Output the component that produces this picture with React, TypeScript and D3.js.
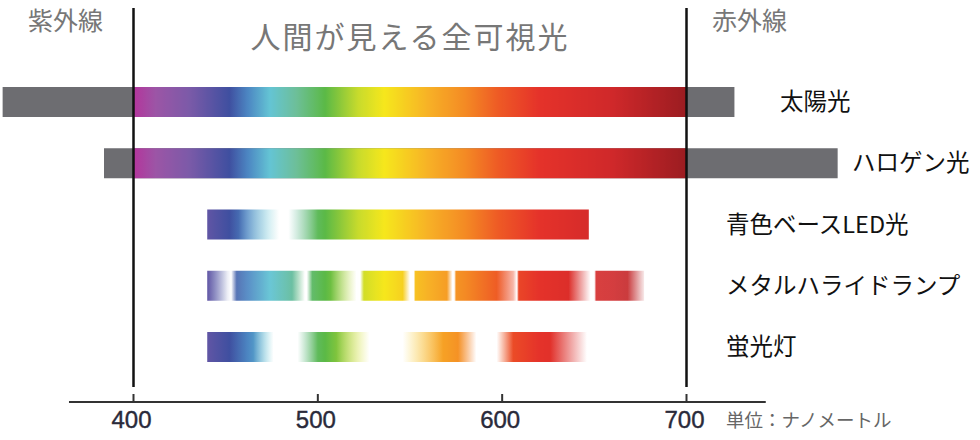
import React from "react";
import * as d3 from "d3";

// Spectrum colour stops (wavelength nm -> colour)
const spectrumNm = [400, 412, 430, 452, 462, 474, 488, 504, 522, 536, 560, 580, 598, 620, 660, 700];
const spectrumColors = ["#b4359c", "#9c55a6", "#7c5aa8", "#3f4fa0", "#4c86c2", "#64c4d4", "#6dbf9a", "#5bb946", "#c8db2c", "#f6e71c", "#f7b126", "#f48a24", "#ee5a25", "#e5322a", "#cf282a", "#9b1c21"];

// Light sources
const lamps = ["太陽光", "ハロゲン光", "青色ベースLED光", "メタルハライドランプ", "蛍光灯"];
// grey (non-visible) extent per lamp, nm (null = none)
const greyStart = [329, 384, null, null, null];
const greyEnd = [726, 782, null, null, null];
// visible emission extent per lamp, nm
const visStart = [400, 400, 440, 440, 440];
const visEnd = [700, 700, 647, 677, 646];
// intensity profiles (nm, opacity)
const profileNm = [
  [400, 700],
  [400, 700],
  [440, 457, 470, 479, 484, 490, 500, 647],
  [440, 445, 451, 453, 456, 486, 493, 494, 497, 507, 516, 521, 523, 525, 546, 550, 552, 553, 570, 573, 574, 575, 597, 606, 608, 609, 636, 648, 650, 651, 668, 677],
  [440, 465, 476, 489, 500, 510, 528, 546, 568, 576, 586, 597, 606, 626, 646],
];
const profileOp = [
  [1, 1],
  [1, 1],
  [1, 1, 0.45, 0, 0, 0.4, 1, 1],
  [1, 0.6, 0.1, 0, 0.9, 1, 0, 0, 1, 1, 0.35, 0, 0, 1, 1, 0, 0, 1, 1, 0, 0, 1, 1, 0.4, 0, 1, 1, 0, 0, 0.9, 0.9, 0.1],
  [1, 1, 0, 0, 1, 1, 0, 0, 1, 1, 0, 0, 1, 1, 0],
];

// Axis
const tickValues = [400, 500, 600, 700];
const axisExtent = [365, 743];
const visibleBounds = [400, 700];

const topLeftLabel = "紫外線";
const topRightLabel = "赤外線";
const titleLabel = "人間が見える全可視光";
const unitLabel = "単位：ナノメートル";

const JP = "'Noto Sans CJK JP', 'Noto Sans', sans-serif";

export default function App() {
  const x = d3.scaleLinear().domain([400, 700]).range([133.5, 686.5]);
  const y = d3.scalePoint<string>().domain(lamps).range([102, 347]);
  const barH = 30;
  const spec = d3.scaleLinear<string>().domain(spectrumNm).range(spectrumColors).interpolate(d3.interpolateRgb);

  const labelX = [780, 852, 726, 726, 726];
  const axisY = 402;

  return (
    <svg width={980} height={440} style={{ position: "absolute", left: 0, top: 0, background: "#fff" }}>
      <defs>
        {lamps.map((l, i) => {
          const s = visStart[i];
          const e = visEnd[i];
          const op = d3.scaleLinear().domain(profileNm[i]).range(profileOp[i]).clamp(true);
          const nms = d3.range(s, e + 0.001, 1);
          return (
            <linearGradient key={l} id={`g${i}`} gradientUnits="userSpaceOnUse" x1={x(s)} x2={x(e)} y1={0} y2={0}>
              {nms.map((n) => (
                <stop key={n} offset={(n - s) / (e - s)} stopColor={spec(n)} stopOpacity={op(n)} />
              ))}
            </linearGradient>
          );
        })}
      </defs>

      {/* top labels */}
      <text x={28} y={30} fontFamily={JP} fontSize={25} fill="#777">{topLeftLabel}</text>
      <text x={712} y={30} fontFamily={JP} fontSize={25} fill="#777">{topRightLabel}</text>
      <text x={(x(visibleBounds[0]) + x(visibleBounds[1])) / 2} y={48} textAnchor="middle" fontFamily={JP} fontSize={30} letterSpacing={2} fill="#777">{titleLabel}</text>

      {/* bars */}
      {lamps.map((l, i) => {
        const cy = y(l)!;
        return (
          <g key={l}>
            {greyStart[i] != null && (
              <rect x={x(greyStart[i] as number)} y={cy - barH / 2} width={x(greyEnd[i] as number) - x(greyStart[i] as number)} height={barH} fill="#6d6d71" />
            )}
            <rect x={x(visStart[i])} y={cy - barH / 2} width={x(visEnd[i]) - x(visStart[i])} height={barH} fill={`url(#g${i})`} />
            <text x={labelX[i]} y={cy + 8} fontFamily={JP} fontSize={23.5} fill="#111">{l}</text>
          </g>
        );
      })}

      {/* visible bounds lines */}
      {visibleBounds.map((v) => (
        <line key={v} x1={x(v)} x2={x(v)} y1={8} y2={387} stroke="#111" strokeWidth={2.5} />
      ))}

      {/* axis */}
      <line x1={x(axisExtent[0])} x2={x(axisExtent[1])} y1={axisY} y2={axisY} stroke="#333" strokeWidth={2} />
      {tickValues.map((t) => (
        <g key={t}>
          <line x1={x(t)} x2={x(t)} y1={axisY - 8} y2={axisY} stroke="#333" strokeWidth={2} />
          <text x={x(t) - 2} y={428} textAnchor="middle" fontFamily="'Liberation Sans', Arial, sans-serif" fontSize={24} fill="#2a2a3a" stroke="#2a2a3a" strokeWidth={0.4}>{t}</text>
        </g>
      ))}
      <text x={726} y={427} fontFamily={JP} fontSize={18.5} fill="#666">{unitLabel}</text>
    </svg>
  );
}
